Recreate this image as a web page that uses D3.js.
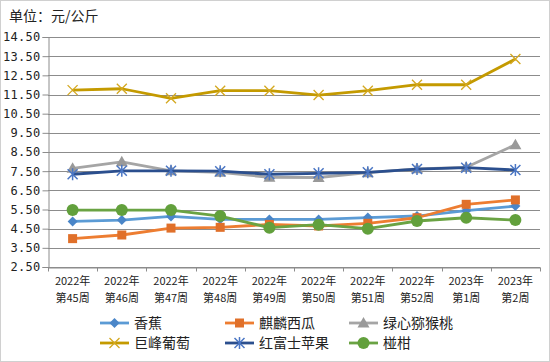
<!DOCTYPE html>
<html>
<head>
<meta charset="utf-8">
<script src="https://cdn.jsdelivr.net/npm/d3@7.9.0/dist/d3.min.js"></script>
<style>
  body { margin: 0; background: #fff; }
  svg { display: block; font-family: "Noto Sans CJK SC", sans-serif; }
</style>
</head>
<body>
<svg id="chart" width="550" height="362"></svg>
<script>
const weeks = ["2022年|第45周", "2022年|第46周", "2022年|第47周", "2022年|第48周", "2022年|第49周",
               "2022年|第50周", "2022年|第51周", "2022年|第52周", "2023年|第1周", "2023年|第2周"];
const yTicks = [2.5, 3.5, 4.5, 5.5, 6.5, 7.5, 8.5, 9.5, 10.5, 11.5, 12.5, 13.5, 14.5];

const banana = [4.88, 4.95, 5.14, 4.99, 4.98, 4.98, 5.08, 5.16, 5.44, 5.68];
const watermelon = [3.98, 4.17, 4.53, 4.57, 4.72, 4.64, 4.78, 5.07, 5.77, 6.00];
const kiwi = [7.65, 7.99, 7.52, 7.44, 7.18, 7.17, 7.42, 7.62, 7.70, 8.88];
const grape = [11.73, 11.80, 11.30, 11.70, 11.70, 11.47, 11.70, 12.01, 12.01, 13.35];
const apple = [7.34, 7.52, 7.52, 7.50, 7.34, 7.39, 7.44, 7.61, 7.68, 7.56];
const ponkan = [5.47, 5.47, 5.47, 5.16, 4.55, 4.71, 4.50, 4.90, 5.07, 4.95];

const series = [
  { name: "香蕉", values: banana, line: "#5B9BD5", mark: "#4A86C8", shape: "diamond" },
  { name: "麒麟西瓜", values: watermelon, line: "#ED7D31", mark: "#E0702A", shape: "square" },
  { name: "绿心猕猴桃", values: kiwi, line: "#A5A5A5", mark: "#999999", shape: "triangle" },
  { name: "巨峰葡萄", values: grape, line: "#C49A00", mark: "#D4A820", shape: "x" },
  { name: "红富士苹果", values: apple, line: "#2B4F8E", mark: "#4A76C4", shape: "star" },
  { name: "椪柑", values: ponkan, line: "#6AA343", mark: "#62A03C", shape: "circle" }
];

const svg = d3.select("#chart");
const plotLeft = 48, plotRight = 540, plotTop = 37, plotBottom = 267;

svg.append("rect").attr("x", 0.5).attr("y", 0.5).attr("width", 549).attr("height", 361)
  .attr("fill", "#fff").attr("stroke", "#d0d0d0");

svg.append("text").attr("x", 9).attr("y", 21).attr("font-size", 14).attr("fill", "#222")
  .text("单位：元/公斤");

const x = d3.scaleBand().domain(weeks).range([plotLeft, plotRight]);
const y = d3.scaleLinear().domain([2.5, 14.5]).range([plotBottom, plotTop]);

// grid
svg.append("g").selectAll("line").data(yTicks).join("line")
  .attr("x1", plotLeft).attr("x2", plotRight)
  .attr("y1", d => Math.round(y(d)) + 0.5).attr("y2", d => Math.round(y(d)) + 0.5)
  .attr("stroke", "#8c8c8c").attr("stroke-width", 1);

// y axis
const yAxis = svg.append("g").attr("transform", `translate(${plotLeft + 0.5},0)`)
  .call(d3.axisLeft(y).tickValues(yTicks).tickFormat(d3.format(".2f")).tickSize(6).tickPadding(2));
yAxis.select(".domain").attr("stroke", "#8c8c8c");
yAxis.selectAll(".tick line").attr("stroke", "#8c8c8c");
yAxis.selectAll(".tick text").attr("font-family", "'DejaVu Sans Mono', monospace")
  .attr("font-size", 12).attr("letter-spacing", 0.3).attr("fill", "#222");

// x axis
const xAxis = svg.append("g").attr("transform", `translate(0,${plotBottom + 0.5})`)
  .call(d3.axisBottom(x).tickSize(0).tickFormat(""));
xAxis.select(".domain").attr("stroke", "#8c8c8c");
const bounds = d3.range(weeks.length + 1).map(i => plotLeft + i * x.bandwidth());
xAxis.append("g").selectAll("line").data(bounds).join("line")
  .attr("x1", d => Math.round(d) + 0.5).attr("x2", d => Math.round(d) + 0.5)
  .attr("y1", 0).attr("y2", 4).attr("stroke", "#8c8c8c");

const xLabels = svg.append("g").selectAll("text").data(weeks).join("text")
  .attr("x", d => x(d) + x.bandwidth() / 2)
  .attr("text-anchor", "middle").attr("font-size", 11).attr("fill", "#222");
xLabels.append("tspan").attr("x", d => x(d) + x.bandwidth() / 2).attr("y", 285)
  .text(d => d.split("|")[0]);
xLabels.append("tspan").attr("x", d => x(d) + x.bandwidth() / 2).attr("y", 302)
  .text(d => d.split("|")[1]);

function drawMarker(g, s, cx, cy) {
  if (s.shape === "diamond") {
    g.append("path").attr("d", `M${cx},${cy - 5}L${cx + 5},${cy}L${cx},${cy + 5}L${cx - 5},${cy}Z`)
      .attr("fill", s.mark);
  } else if (s.shape === "square") {
    g.append("rect").attr("x", cx - 4.5).attr("y", cy - 4.5).attr("width", 9).attr("height", 9)
      .attr("fill", s.mark);
  } else if (s.shape === "triangle") {
    g.append("path").attr("d", `M${cx},${cy - 6}L${cx + 6},${cy + 4.5}L${cx - 6},${cy + 4.5}Z`)
      .attr("fill", s.mark);
  } else if (s.shape === "x") {
    g.append("path").attr("d", `M${cx - 5},${cy - 5}L${cx + 5},${cy + 5}M${cx + 5},${cy - 5}L${cx - 5},${cy + 5}`)
      .attr("stroke", s.mark).attr("stroke-width", 1.3);
  } else if (s.shape === "star") {
    g.append("path").attr("d", `M${cx - 5},${cy - 5}L${cx + 5},${cy + 5}M${cx + 5},${cy - 5}L${cx - 5},${cy + 5}M${cx},${cy - 6}L${cx},${cy + 6}`)
      .attr("stroke", s.mark).attr("stroke-width", 1.5);
  } else {
    g.append("circle").attr("cx", cx).attr("cy", cy).attr("r", 6).attr("fill", s.mark);
  }
}

const line = d3.line().x((d, i) => x(weeks[i]) + x.bandwidth() / 2).y(d => y(d));

series.forEach(s => {
  const g = svg.append("g");
  g.append("path").datum(s.values).attr("d", line)
    .attr("fill", "none").attr("stroke", s.line).attr("stroke-width", 2.8)
    .attr("stroke-linejoin", "round");
  s.values.forEach((v, i) => drawMarker(g, s, x(weeks[i]) + x.bandwidth() / 2, y(v)));
});

// legend
const legCols = [100, 225, 349];
const legRows = [323, 343];
series.forEach((s, i) => {
  const lx = legCols[i % 3], ly = legRows[Math.floor(i / 3)];
  const g = svg.append("g");
  g.append("line").attr("x1", lx).attr("x2", lx + 29).attr("y1", ly).attr("y2", ly)
    .attr("stroke", s.line).attr("stroke-width", 2.8);
  drawMarker(g, s, lx + 14.5, ly);
  g.append("text").attr("x", lx + 34).attr("y", ly + 5).attr("font-size", 14).attr("fill", "#222")
    .text(s.name);
});
</script>
</body>
</html>
